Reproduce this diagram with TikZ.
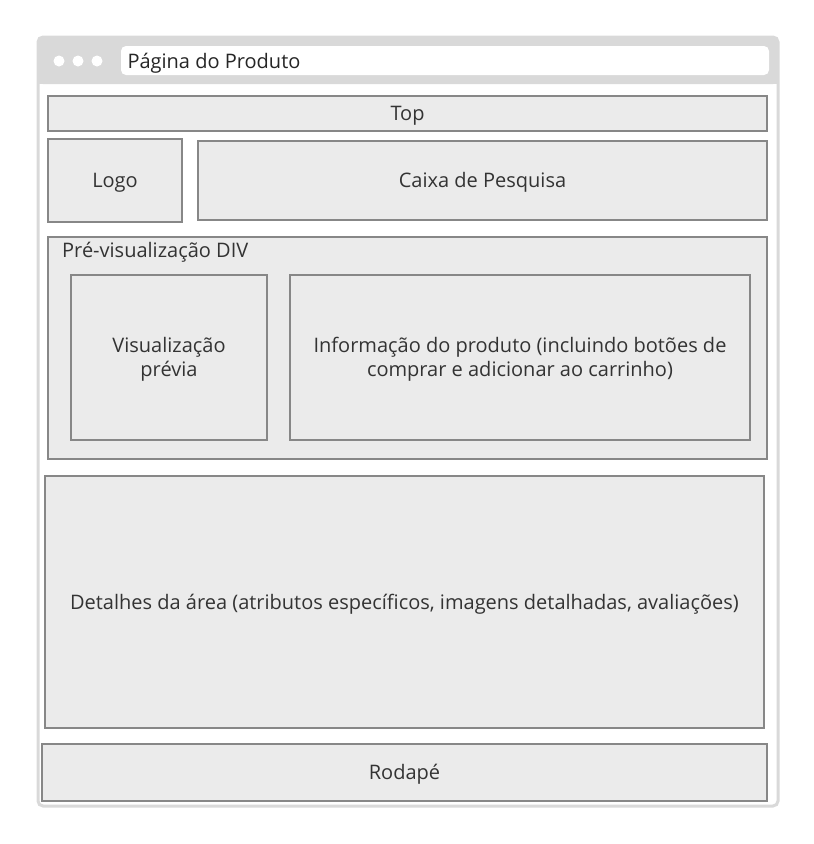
\documentclass[tikz,border=0pt]{standalone}
\usepackage{fontspec}
\setmainfont{Open Sans}
\begin{document}
\begin{tikzpicture}[x=1pt,y=-1pt,
    area/.style={draw=black!47,line width=2.4pt,fill=black!8,text=black!80,font=\fontsize{20}{24}\selectfont,align=center,inner sep=0pt},
    dot/.style={circle,fill=white,minimum size=11pt,inner sep=0pt}]
  \useasboundingbox (0,0) rectangle (814,844);
  % janela do navegador
  \draw[black!15,line width=3pt,rounded corners=5pt,fill=white] (38,37) rectangle (778,806);
  \fill[black!15,rounded corners=5pt] (38,37) rectangle (778,84);
  \fill[black!15] (38,70) rectangle (778,84);
  \draw
    (59,61) node[dot] (d1){}
    (78,61) node[dot] (d2){}
    (97,61) node[dot] (d3){};
  \fill[white,rounded corners=5pt] (121,46) rectangle (769,75);
  \node[anchor=west,text=black!85,font=\fontsize{20}{24}\selectfont] (url) at (124,63) {Página do Produto};
  % blocos
  \node[area,minimum width=719pt,minimum height=35pt] (top) at (407.5,113.5) {};
  \node[area,minimum width=134pt,minimum height=83pt] (logo) at (115,180.5) {};
  \node[area,minimum width=569pt,minimum height=79pt] (busca) at (482.5,180.5) {};
  \node[area,minimum width=719pt,minimum height=222pt] (prev) at (407.5,348) {};
  \node[area,minimum width=196pt,minimum height=165pt] (visual) at (169,357.5) {};
  \node[area,minimum width=460pt,minimum height=165pt] (info) at (520,357.5) {};
  \node[area,minimum width=719pt,minimum height=252pt] (detalhes) at (404.5,602) {};
  \node[area,minimum width=725pt,minimum height=57pt] (rodape) at (404.5,772.5) {};
  % textos
  \begin{scope}[every node/.style={text=black!80,font=\fontsize{20}{24}\selectfont,align=center,inner sep=0pt}]
    \node at ([yshift=-2pt]top.center) {Top};
    \node at ([yshift=-2pt]logo.center) {Logo};
    \node at ([yshift=-2pt]busca.center) {Caixa de Pesquisa};
    \node[anchor=north west] (prevlabel) at (62,242) {Pré-visualização DIV};
    \node at ([yshift=-2pt]visual.center) {Visualização\\prévia};
    \node at ([yshift=-2pt]info.center) {Informação do produto (incluindo botões de\\comprar e adicionar ao carrinho)};
    \node at ([yshift=-2pt]detalhes.center) {Detalhes da área (atributos específicos, imagens detalhadas, avaliações)};
    \node at ([yshift=-2pt]rodape.center) {Rodapé};
  \end{scope}
\end{tikzpicture}
\end{document}
